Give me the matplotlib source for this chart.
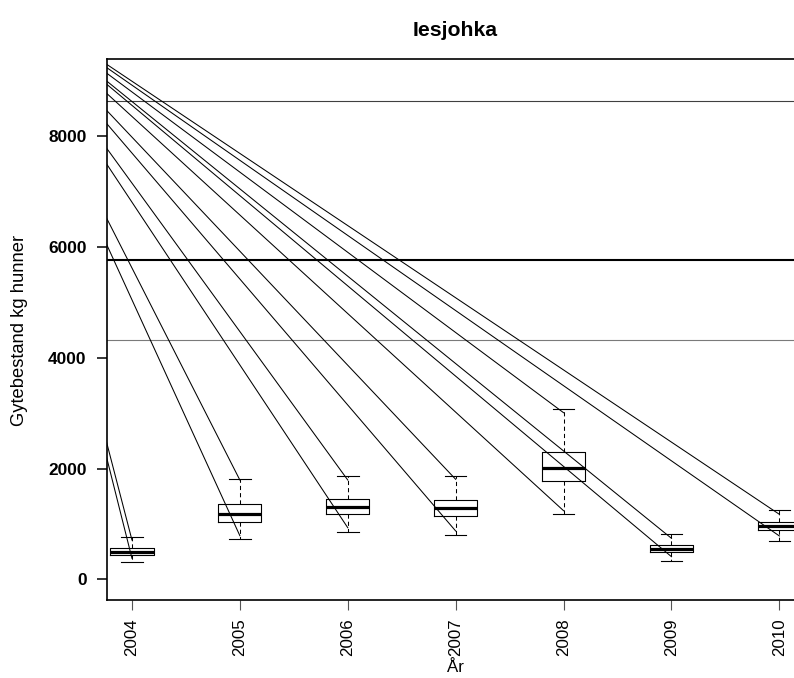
import matplotlib
matplotlib.use("Agg")
import matplotlib.pyplot as plt

plt.rcParams["font.family"] = ["Liberation Sans", "DejaVu Sans"]
plt.rcParams["lines.scale_dashes"] = False

# Spawning stock per year (kg females): box statistics
years = ["2004", "2005", "2006", "2007", "2008", "2009", "2010"]
whis_lo = [307, 722, 848, 794, 1173, 325, 697]
q1 = [439, 1034, 1173, 1137, 1780, 487, 890]
median = [498, 1184, 1300, 1282, 2014, 547, 958]
q3 = [570, 1354, 1449, 1426, 2292, 619, 1029]
whis_hi = [758, 1805, 1865, 1865, 3079, 812, 1251]

# Interval limits joined by guide segments
interval_lo = [379, 787, 931, 872, 1238, 408, 782]
interval_hi = [709, 1792, 1792, 1805, 3007, 740, 1173]
segment_origin = (-0.335, 10730)

# Reference levels (spawning target and bounds)
target = 5760
lower_ref = 4320
upper_ref = 8640

fig = plt.figure(figsize=(7.94, 6.78), dpi=100)
ax = fig.add_axes([0.1344, 0.1150, 0.8790, 0.7975])

positions = list(range(1, len(years) + 1))

# reference lines
ax.axhline(upper_ref, color="#404040", lw=0.8, zorder=1)
ax.axhline(target, color="black", lw=1.5, zorder=1)
ax.axhline(lower_ref, color="#7a7a7a", lw=0.8, zorder=1)

stats = []
for i in range(len(years)):
    stats.append(dict(med=median[i], q1=q1[i], q3=q3[i],
                      whislo=whis_lo[i], whishi=whis_hi[i], fliers=[]))

ax.bxp(stats, positions=positions, widths=0.4, capwidths=0.2,
       showfliers=False,
       boxprops=dict(color="black", lw=0.8),
       medianprops=dict(color="black", lw=2.3, solid_capstyle="butt"),
       whiskerprops=dict(color="black", lw=0.75, linestyle=(0, (3.0, 2.2))),
       capprops=dict(color="black", lw=0.8),
       manage_ticks=False)

# guide segments from a common origin to each interval limit
for pos, lo, hi in zip(positions, interval_lo, interval_hi):
    for val in (hi, lo):
        ax.plot([segment_origin[0], pos], [segment_origin[1], val],
                color="black", lw=0.75, zorder=4)

ax.set_xlim(0.766, 7.234)
ax.set_ylim(-374, 9386)

ax.set_xticks(positions)
ax.set_xticklabels(years, rotation=90, fontsize=12.2)
ax.set_yticks([0, 2000, 4000, 6000, 8000])
ax.set_yticklabels(["0", "2000", "4000", "6000", "8000"],
                   fontsize=12.4, fontweight="bold")
ax.tick_params(axis="y", length=7.4, width=1.1, pad=7, color="black")
ax.tick_params(axis="x", length=7.2, width=0.8, pad=5.8, color="#555555")

for side in ("left", "bottom", "top"):
    ax.spines[side].set_linewidth(1.2)
ax.spines["right"].set_visible(False)

ax.set_title("Iesjohka", fontsize=15.3, fontweight="bold", pad=16.5)
fig.text(20 / 794, 1 - 330 / 678, "Gytebestand kg hunner", rotation=90,
         ha="center", va="center", fontsize=13.2)
fig.text(455.6 / 794, 1 - 668 / 678, "År", ha="center", va="center",
         fontsize=12.2)

fig.savefig("out.png", dpi=100)
